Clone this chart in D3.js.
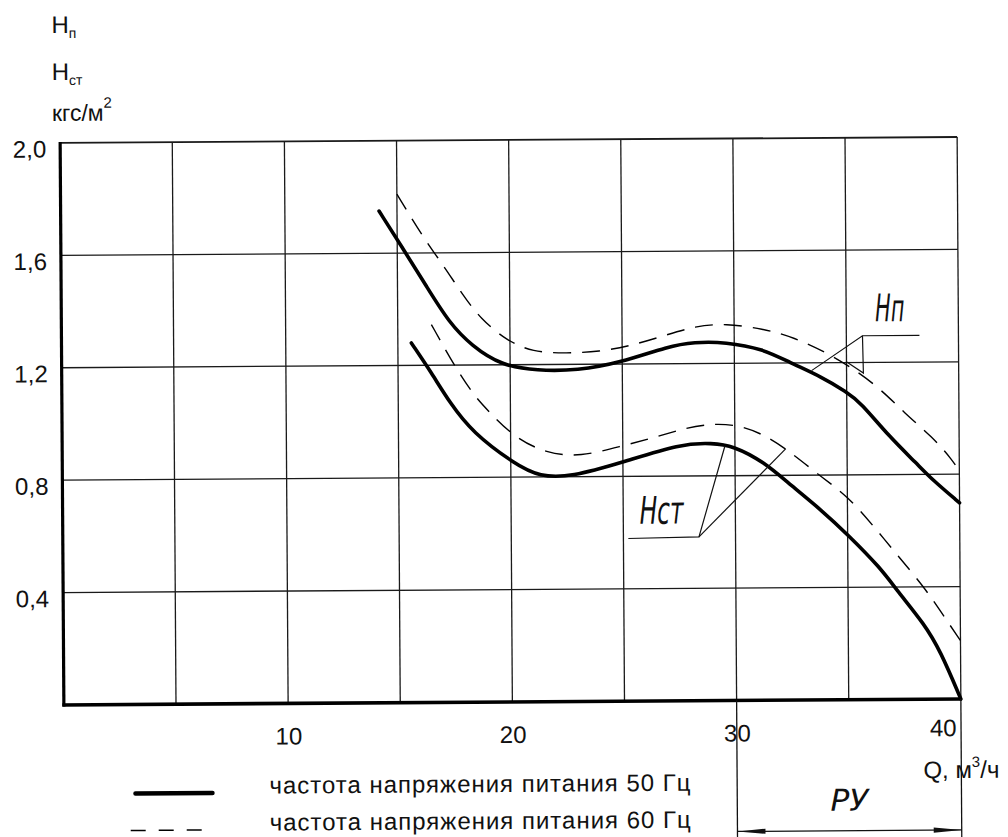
<!DOCTYPE html>
<html>
<head>
<meta charset="utf-8">
<script src="https://cdn.jsdelivr.net/npm/d3@7"></script>
<style>
  body { margin: 0; background: #fff; }
  svg { display: block; }
  .lbl { font-family: "Liberation Sans", Arial, sans-serif; fill: #111; }
  .gost { font-family: "Liberation Sans Narrow", "DejaVu Sans Condensed", sans-serif; font-style: italic; fill: #111; }
</style>
</head>
<body>
<svg id="chart" width="1008" height="837"></svg>
<script>
// ---- data (Q, м3/ч ; H, кгс/м2) ----
const xGrid = [5, 10, 15, 20, 25, 30, 35, 40];
const xTicks = [10, 20, 30, 40];
const yGrid = [0.4, 0.8, 1.2, 1.6, 2.0];
const yTicks = [0.4, 0.8, 1.2, 1.6, 2.0];

// Hп, 50 Hz (solid)
const hp50 = [[14.2,1.75],[15.3,1.61],[16.3,1.48],[17.3,1.35],[18.3,1.268],[19.6,1.198],
  [21.2,1.178],[23.0,1.178],[24.9,1.204],[27.1,1.263],[28.2,1.276],[29.6,1.276],[31.3,1.25],[32.45,1.202],
  [33.9,1.149],[35.0,1.095],[35.6,1.059],[36.9,0.934],[38.1,0.839],[38.8,0.78],[40,0.698]];
// Hп, 60 Hz (dashed)
const hp60 = [[15.0,1.81],[16.2,1.65],[17.1,1.55],[17.9,1.45],[18.7,1.364],[19.85,1.286],[21.0,1.245],
  [22.5,1.239],[24.0,1.245],[25.3,1.263],[26.8,1.298],[28.3,1.334],[29.6,1.342],[31.3,1.322],[32.6,1.293],
  [34.4,1.226],[36.3,1.123],[37.6,1.016],[38.8,0.934],[39.7,0.85],[40,0.81]];
// Hст, 50 Hz (solid)
const hst50 = [[15.6,1.28],[16.5,1.172],[17.3,1.066],[18.3,0.96],[20.15,0.848],[21.3,0.80],
  [22.7,0.80],[24.9,0.848],[27.6,0.916],[29.0,0.916],[29.9,0.907],[31.3,0.848],[32.46,0.766],[33.9,0.671],
  [35.0,0.588],[36.45,0.469],[37.2,0.386],[38.4,0.267],[39.1,0.172],[40,0.0]];
// Hст, 60 Hz (dashed)
const hst60 = [[16.5,1.345],[17.6,1.185],[18.4,1.09],[19.0,1.037],[20.15,0.942],[21.6,0.883],[23.1,0.871],
  [24.9,0.907],[26.4,0.937],[27.85,0.972],[29.0,0.986],[30.2,0.98],[31.4,0.942],[32.5,0.881],[33.9,0.79],
  [35.0,0.725],[36.15,0.618],[37.3,0.505],[38.4,0.398],[39.1,0.315],[40,0.208]];

// leader lines for the curve labels (data units)
const hpLabel = [36.3, 1.346];
const hpLeader = [[38.26,1.295],[35.72,1.295],[33.44,1.172]];
const hpLeader2 = [[35.72,1.295],[35.75,1.162],[34.98,1.204]];
const hstLabel = [25.73, 0.631];
const hstLeader = [[25.22,0.579],[28.37,0.583],[29.55,0.905]];
const hstLeader2 = [[28.37,0.583],[32.27,0.895]];
const ruRange = [30, 40];

const fmtY = d => d3.format('.1f')(d).replace('.', ',');

// ---- scales ----
const x = d3.scaleLinear().domain([0, 40]).range([62, 959]);
const y = d3.scaleLinear().domain([0, 2]).range([702, 140]);

const svg = d3.select('#chart');
// the scan is tilted a little
const root = svg.append('g').attr('transform', 'rotate(-0.38 504 420)');

// grid
root.append('g').selectAll('line').data(xGrid).join('line')
  .attr('x1', d => x(d)).attr('x2', d => x(d))
  .attr('y1', y(0)).attr('y2', y(2))
  .attr('stroke', '#1a1a1a').attr('stroke-width', 1.3);

root.append('g').selectAll('line').data(yGrid).join('line')
  .attr('x1', x(0)).attr('x2', x(40))
  .attr('y1', d => y(d)).attr('y2', d => y(d))
  .attr('stroke', '#1a1a1a').attr('stroke-width', d => d === 2 ? 1.8 : 1.3);

// thick axes
root.append('line').attr('x1', x(0)).attr('x2', x(0)).attr('y1', y(2) - 1).attr('y2', y(0) + 1.5)
  .attr('stroke', '#000').attr('stroke-width', 3.2);
root.append('line').attr('x1', x(0) - 1.5).attr('x2', x(40) + 1).attr('y1', y(0)).attr('y2', y(0))
  .attr('stroke', '#000').attr('stroke-width', 3.6);

// axis labels
root.append('g')
  .attr('transform', `translate(${x(0)},0)`)
  .call(d3.axisLeft(y).tickValues(yTicks).tickSize(0).tickPadding(14).tickFormat(fmtY))
  .call(g => g.select('.domain').remove())
  .call(g => g.selectAll('text').attr('class', 'lbl').attr('font-size', 24).attr('dy', '0.58em'));

root.append('g')
  .attr('transform', `translate(0,${y(0)})`)
  .call(d3.axisBottom(x).tickValues(xTicks).tickSize(0).tickPadding(24).tickFormat(d3.format('d')))
  .call(g => g.select('.domain').remove())
  .call(g => g.selectAll('text').attr('class', 'lbl').attr('font-size', 24)
    .attr('text-anchor', d => d === 40 ? 'end' : 'middle')
    .attr('dx', d => d === 40 ? -5 : 0)
    .attr('dy', d => d === 40 ? '0.55em' : '0.71em'));

// curves
const line = d3.line().x(d => x(d[0])).y(d => y(d[1])).curve(d3.curveBasis);
const series = [
  { data: hp50, dash: null },
  { data: hst50, dash: null },
  { data: hp60, dash: '18 11' },
  { data: hst60, dash: '18 11' }
];
root.append('g').selectAll('path').data(series).join('path')
  .attr('d', d => line(d.data))
  .attr('fill', 'none')
  .attr('stroke', '#000')
  .attr('stroke-width', d => d.dash ? 1.4 : 3.6)
  .attr('stroke-dasharray', d => d.dash)
  .attr('stroke-linecap', d => d.dash ? 'butt' : 'round');

// leaders
const straight = d3.line().x(d => x(d[0])).y(d => y(d[1]));
root.append('g').selectAll('path').data([hpLeader, hpLeader2, hstLeader, hstLeader2]).join('path')
  .attr('d', straight).attr('fill', 'none').attr('stroke', '#111').attr('stroke-width', 1.2);

root.append('text').attr('class', 'gost')
  .attr('x', x(hpLabel[0])).attr('y', y(hpLabel[1]))
  .attr('font-size', 38).attr('textLength', 29).attr('lengthAdjust', 'spacingAndGlyphs')
  .text('Нп');
root.append('text').attr('class', 'gost')
  .attr('x', x(hstLabel[0])).attr('y', y(hstLabel[1]))
  .attr('font-size', 38).attr('textLength', 44).attr('lengthAdjust', 'spacingAndGlyphs')
  .text('Нст');

// operating range РУ
root.append('g').selectAll('line').data(ruRange).join('line')
  .attr('x1', d => x(d)).attr('x2', d => x(d))
  .attr('y1', y(0)).attr('y2', 850)
  .attr('stroke', '#111').attr('stroke-width', 1.3);
const ay = 833;
root.append('line').attr('x1', x(ruRange[0])).attr('x2', x(ruRange[1])).attr('y1', ay).attr('y2', ay)
  .attr('stroke', '#111').attr('stroke-width', 1.3);
root.append('path')
  .attr('d', `M${x(ruRange[0])},${ay}l28,-2.6v5.2z M${x(ruRange[1])},${ay}l-28,-2.6v5.2z`)
  .attr('fill', '#111');
root.append('text').attr('class', 'gost')
  .attr('x', x(d3.mean(ruRange))).attr('y', 813)
  .attr('text-anchor', 'middle')
  .attr('font-size', 30).attr('textLength', 38).attr('lengthAdjust', 'spacingAndGlyphs')
  .text('РУ');

// x-axis title
const qt = root.append('text').attr('class', 'lbl').attr('x', 921).attr('y', 781).attr('font-size', 24);
qt.append('tspan').text('Q, м');
qt.append('tspan').attr('dy', -11).attr('font-size', 15).text('3');
qt.append('tspan').attr('dy', 11).text('/ч');

// y-axis title
const t1 = root.append('text').attr('class', 'lbl').attr('x', 54).attr('y', 30).attr('font-size', 24);
t1.append('tspan').text('Н');
t1.append('tspan').attr('dy', 5).attr('font-size', 14).text('п');
const t2 = root.append('text').attr('class', 'lbl').attr('x', 54).attr('y', 77).attr('font-size', 24);
t2.append('tspan').text('Н');
t2.append('tspan').attr('dy', 5).attr('font-size', 14).text('ст');
const t3 = root.append('text').attr('class', 'lbl').attr('x', 54).attr('y', 118).attr('font-size', 23);
t3.append('tspan').text('кгс/м');
t3.append('tspan').attr('dy', -13).attr('font-size', 15).text('2');

// legend
const legend = [
  { label: 'частота напряжения питания 50 Гц', dash: null, y: 792, x1: 133, x2: 210 },
  { label: 'частота напряжения питания 60 Гц', dash: '15 13', y: 829, x1: 128, x2: 202 }
];
const lg = root.append('g').selectAll('g').data(legend).join('g');
lg.append('line')
  .attr('x1', d => d.x1).attr('x2', d => d.x2)
  .attr('y1', d => d.y - 1).attr('y2', d => d.y - 1)
  .attr('stroke', '#000')
  .attr('stroke-width', d => d.dash ? 1.5 : 4.5)
  .attr('stroke-dasharray', d => d.dash)
  .attr('stroke-linecap', d => d.dash ? 'butt' : 'round');
lg.append('text').attr('class', 'lbl')
  .attr('x', 267).attr('y', d => d.y)
  .attr('font-size', 24).attr('textLength', 421).attr('lengthAdjust', 'spacing')
  .text(d => d.label);
</script>
</body>
</html>
